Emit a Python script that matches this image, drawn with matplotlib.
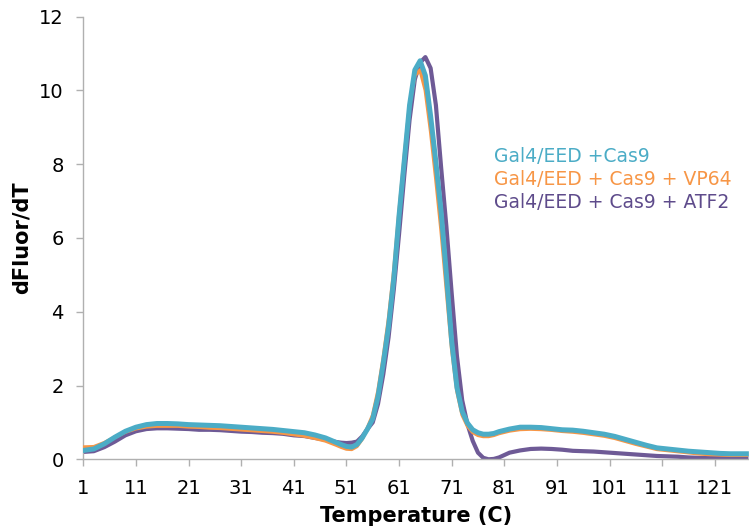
import matplotlib
matplotlib.use("Agg")
import matplotlib.pyplot as plt

# temperature index (category positions on the x axis)
temp = [1, 3, 5, 7, 9, 11, 13, 15, 17, 19, 21, 23, 25, 27, 29, 31, 33, 35, 37, 39,
        41, 43, 45, 47, 49,
        50, 51, 52, 53, 54, 55, 56, 57, 58, 59, 60, 61, 62, 63, 64, 65, 66, 67, 68, 69,
        70, 71, 72, 73, 74, 75, 76, 77, 78, 79, 80,
        82, 84, 86, 88, 90, 92, 94, 96, 98, 100, 102, 104, 106, 108, 110, 112, 114,
        116, 118, 120, 122, 124, 126, 127]

cas9 = [0.24, 0.28, 0.42, 0.60, 0.76, 0.87, 0.94, 0.97, 0.97, 0.96, 0.94, 0.93, 0.92,
        0.91, 0.89, 0.87, 0.85, 0.83, 0.81, 0.78, 0.75, 0.72, 0.66, 0.58, 0.46,
        0.40, 0.35, 0.33, 0.40, 0.58, 0.82, 1.10, 1.70, 2.60, 3.60, 4.90, 6.60, 8.10,
        9.60, 10.55, 10.80, 10.40, 9.30, 8.05, 6.70, 5.00, 3.20, 1.95, 1.30, 0.98,
        0.80, 0.72, 0.68, 0.68, 0.70, 0.75,
        0.82, 0.87, 0.87, 0.86, 0.83, 0.80, 0.79, 0.76, 0.72, 0.68, 0.62, 0.54, 0.46,
        0.38, 0.31, 0.28, 0.25, 0.22, 0.20, 0.18, 0.16, 0.15, 0.15, 0.15]

vp64 = [0.33, 0.34, 0.45, 0.60, 0.74, 0.83, 0.88, 0.90, 0.90, 0.90, 0.88, 0.87, 0.85,
        0.84, 0.82, 0.80, 0.78, 0.76, 0.74, 0.71, 0.67, 0.63, 0.57, 0.50, 0.39,
        0.33, 0.28, 0.27, 0.35, 0.55, 0.85, 1.20, 1.85, 2.75, 3.80, 5.10, 6.70, 8.20,
        9.60, 10.40, 10.55, 10.00, 8.90, 7.60, 6.20, 4.60, 3.00, 1.85, 1.20, 0.90,
        0.73, 0.65, 0.62, 0.62, 0.65, 0.70,
        0.77, 0.81, 0.82, 0.81, 0.79, 0.76, 0.74, 0.71, 0.67, 0.63, 0.57, 0.49, 0.41,
        0.34, 0.27, 0.24, 0.21, 0.18, 0.15, 0.13, 0.12, 0.11, 0.11, 0.11]

atf2 = [0.20, 0.22, 0.33, 0.48, 0.65, 0.76, 0.82, 0.84, 0.84, 0.83, 0.82, 0.80, 0.80,
        0.79, 0.77, 0.75, 0.74, 0.72, 0.71, 0.69, 0.65, 0.63, 0.58, 0.53, 0.47,
        0.45, 0.44, 0.45, 0.48, 0.62, 0.82, 1.00, 1.50, 2.30, 3.30, 4.60, 6.10, 7.70,
        9.20, 10.30, 10.75, 10.90, 10.60, 9.60, 7.90, 6.30, 4.50, 2.80, 1.60, 0.95,
        0.50, 0.18, 0.04, 0.00, 0.01, 0.05,
        0.18, 0.24, 0.28, 0.29, 0.28, 0.26, 0.23, 0.22, 0.21, 0.19, 0.17, 0.15, 0.13,
        0.11, 0.09, 0.08, 0.07, 0.05, 0.04, 0.04, 0.04, 0.04, 0.03, 0.03]

labels = ["Gal4/EED +Cas9", "Gal4/EED + Cas9 + VP64", "Gal4/EED + Cas9 + ATF2"]
xticks = list(range(1, 122, 10))
yticks = list(range(0, 13, 2))

teal = "#4BACC6"
orange = "#F79646"
purple = "#6E5A96"

fig = plt.figure(figsize=(7.49, 5.32), dpi=100)
ax = fig.add_axes([83.3 / 749, 1 - 459.3 / 532, 1 - 83.3 / 749, (459.3 - 16.5) / 532])

ax.plot(temp, atf2, color=purple, lw=3.0, zorder=2, solid_joinstyle="round")
ax.plot(temp, vp64, color=orange, lw=2.6, zorder=3, solid_joinstyle="round")
ax.plot(temp, cas9, color=teal, lw=3.6, zorder=4, solid_joinstyle="round")

ax.set_xlim(1, 127.5)
ax.set_ylim(0, 12)
ax.set_xticks(xticks)
ax.set_yticks(yticks)
ax.tick_params(axis="both", labelsize=14, color="#B0B0B0", length=5, width=1)
ax.tick_params(axis="x", pad=9)
ax.tick_params(axis="y", pad=9)

for side in ["top", "right"]:
    ax.spines[side].set_visible(False)
for side in ["left", "bottom"]:
    ax.spines[side].set_color("#B0B0B0")
    ax.spines[side].set_linewidth(1)
ax.set_clip_on(False)

ax.set_xlabel("Temperature (C)", fontsize=15, fontweight="bold")
ax.set_ylabel("dFluor/dT", fontsize=15, fontweight="bold")
ax.xaxis.set_label_coords(0.5, -0.105)
ax.yaxis.set_label_coords(-0.077, 0.5)

# colored text legend
for i, (lab, col) in enumerate(zip(labels, [teal, orange, "#5E4B8B"])):
    fig.text(494 / 749, 1 - (157 + 22.5 * i) / 532, lab, color=col,
             fontsize=13.5, va="center", ha="left")

fig.savefig("out.png", dpi=100)
